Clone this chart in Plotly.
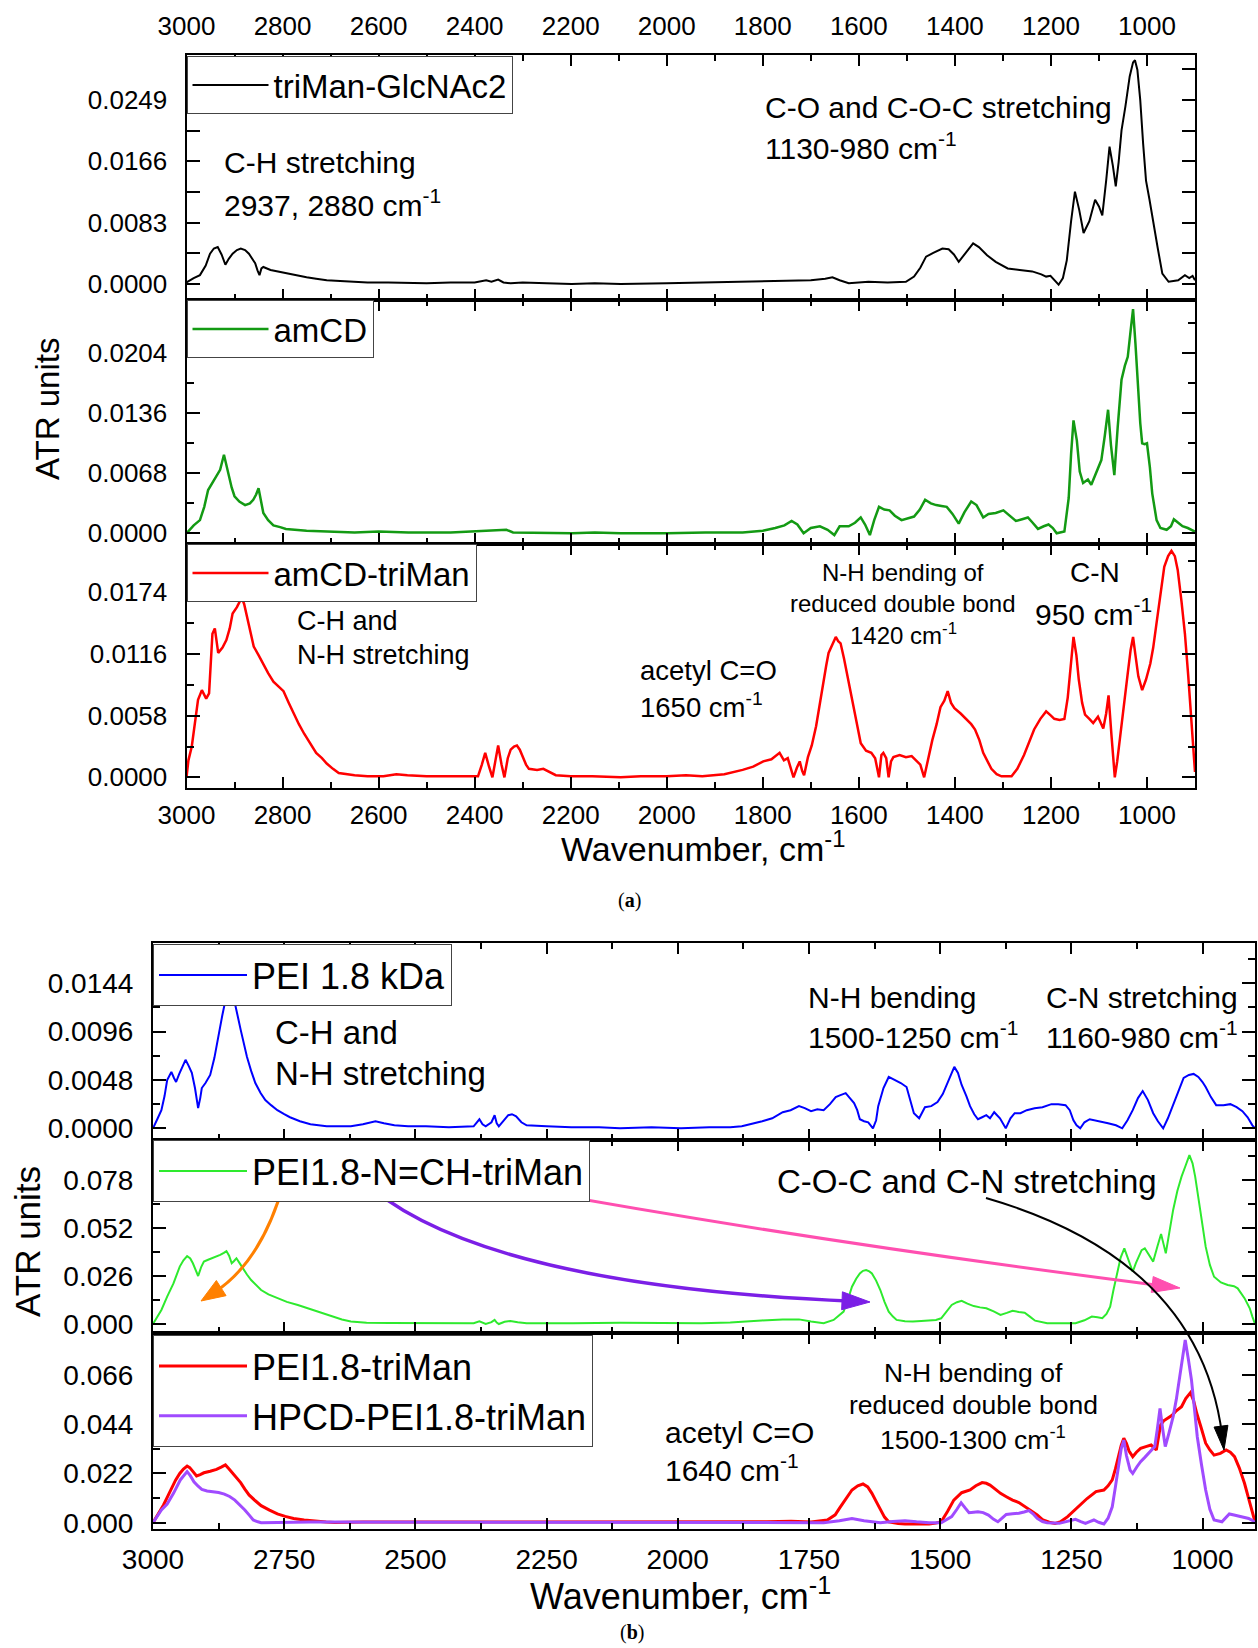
import math
import plotly.graph_objects as go

# ---------------- DATA ----------------
# Panel (a) top: triMan-GlcNAc2
wn_triman = [3000, 2985, 2972, 2960, 2951, 2943, 2935, 2927, 2919, 2912, 2904, 2895, 2887, 2878, 2870, 2862, 2857, 2852, 2848, 2844, 2840, 2825, 2810, 2793, 2770, 2750, 2730, 2708, 2680, 2650, 2623, 2580, 2538, 2500, 2450, 2400, 2376, 2365, 2351, 2340, 2325, 2300, 2250, 2198, 2150, 2096, 2000, 1900, 1850, 1799, 1750, 1700, 1670, 1655, 1640, 1621, 1580, 1540, 1502, 1485, 1472, 1460, 1445, 1426, 1413, 1402, 1392, 1380, 1362, 1350, 1333, 1315, 1290, 1265, 1239, 1220, 1210, 1201, 1192, 1184, 1175, 1167, 1158, 1150, 1141, 1132, 1120, 1108, 1100, 1093, 1085, 1078, 1071, 1065, 1059, 1053, 1045, 1036, 1029, 1025, 1020, 1014, 1008, 1002, 995, 989, 978, 968, 955, 945, 935, 921, 912, 905, 900]
atr_triman = [0.0002, 0.0008, 0.0012, 0.0025, 0.0041, 0.0048, 0.0050, 0.0040, 0.0026, 0.0034, 0.0041, 0.0046, 0.0048, 0.0046, 0.0041, 0.0034, 0.0028, 0.0018, 0.0012, 0.0021, 0.0023, 0.0019, 0.0017, 0.0014, 0.0011, 0.0009, 0.0007, 0.0005, 0.0004, 0.0003, 0.0002, 0.0002, 0.0001, 0.0001, 0.0002, 0.0002, 0.0005, 0.0003, 0.0006, 0.0002, 0.0001, 0.0002, 0.0001, 0.0000, 0.0001, 0.0000, 0.0001, 0.0002, 0.0003, 0.0003, 0.0004, 0.0005, 0.0007, 0.0009, 0.0005, 0.0001, 0.0003, 0.0002, 0.0003, 0.0010, 0.0022, 0.0037, 0.0042, 0.0048, 0.0047, 0.0040, 0.0030, 0.0040, 0.0055, 0.0050, 0.0039, 0.0030, 0.0021, 0.0019, 0.0017, 0.0013, 0.0010, 0.0011, 0.0005, -0.0001, 0.0008, 0.0032, 0.0085, 0.0125, 0.0100, 0.0069, 0.0085, 0.0114, 0.0105, 0.0093, 0.0140, 0.0186, 0.0160, 0.0132, 0.0165, 0.0208, 0.0240, 0.0281, 0.0300, 0.0303, 0.0290, 0.0249, 0.0190, 0.0140, 0.0115, 0.0091, 0.0050, 0.0014, 0.0003, 0.0004, 0.0005, 0.0012, 0.0008, 0.0011, 0.0005]

# Panel (a) middle: amCD
wn_amcd = [3000, 2985, 2972, 2963, 2955, 2946, 2938, 2930, 2922, 2917, 2912, 2906, 2900, 2890, 2878, 2868, 2861, 2855, 2850, 2845, 2840, 2830, 2819, 2805, 2793, 2750, 2708, 2650, 2600, 2538, 2450, 2400, 2334, 2320, 2250, 2197, 2150, 2096, 2000, 1920, 1842, 1800, 1774, 1755, 1740, 1728, 1715, 1700, 1681, 1665, 1651, 1640, 1621, 1608, 1596, 1587, 1577, 1568, 1558, 1547, 1536, 1525, 1511, 1498, 1485, 1473, 1462, 1450, 1439, 1428, 1417, 1405, 1392, 1380, 1366, 1355, 1341, 1330, 1315, 1299, 1285, 1273, 1260, 1248, 1238, 1227, 1215, 1205, 1196, 1188, 1172, 1163, 1158, 1153, 1146, 1140, 1133, 1123, 1116, 1108, 1100, 1095, 1088, 1081, 1075, 1068, 1061, 1053, 1046, 1040, 1034, 1029, 1024, 1019, 1014, 1010, 1005, 1000, 994, 989, 980, 972, 959, 950, 944, 935, 926, 915, 908, 900]
atr_amcd = [0.0000, 0.0009, 0.0015, 0.0030, 0.0049, 0.0057, 0.0064, 0.0072, 0.0089, 0.0078, 0.0064, 0.0052, 0.0042, 0.0036, 0.0032, 0.0034, 0.0038, 0.0044, 0.0051, 0.0035, 0.0023, 0.0015, 0.0009, 0.0007, 0.0005, 0.0003, 0.0002, 0.0001, 0.0002, 0.0001, 0.0001, 0.0002, 0.0004, 0.0001, 0.0000, 0.0000, 0.0001, 0.0000, 0.0000, 0.0001, 0.0001, 0.0003, 0.0006, 0.0009, 0.0014, 0.0010, 0.0000, 0.0006, 0.0008, 0.0004, -0.0002, 0.0008, 0.0008, 0.0012, 0.0018, 0.0010, -0.0002, 0.0015, 0.0030, 0.0027, 0.0026, 0.0020, 0.0015, 0.0017, 0.0019, 0.0027, 0.0038, 0.0034, 0.0032, 0.0031, 0.0030, 0.0022, 0.0011, 0.0024, 0.0036, 0.0032, 0.0018, 0.0022, 0.0023, 0.0026, 0.0020, 0.0014, 0.0016, 0.0018, 0.0012, 0.0005, 0.0008, 0.0010, 0.0006, 0.0000, 0.0002, 0.0040, 0.0090, 0.0128, 0.0105, 0.0070, 0.0057, 0.0061, 0.0055, 0.0065, 0.0075, 0.0083, 0.0110, 0.0140, 0.0100, 0.0066, 0.0120, 0.0174, 0.0190, 0.0200, 0.0230, 0.0254, 0.0215, 0.0166, 0.0125, 0.0102, 0.0101, 0.0102, 0.0075, 0.0045, 0.0015, 0.0006, 0.0004, 0.0008, 0.0016, 0.0012, 0.0008, 0.0006, 0.0004, 0.0002]

# Panel (a) bottom: amCD-triMan
wn_amcd_triman = [3000, 2996, 2989, 2982, 2976, 2968, 2962, 2959, 2953, 2946, 2941, 2934, 2925, 2917, 2910, 2904, 2895, 2885, 2880, 2874, 2867, 2860, 2850, 2840, 2830, 2819, 2808, 2798, 2787, 2776, 2766, 2755, 2742, 2730, 2718, 2708, 2695, 2683, 2650, 2623, 2590, 2563, 2540, 2500, 2453, 2393, 2385, 2378, 2370, 2363, 2357, 2351, 2344, 2338, 2331, 2325, 2318, 2312, 2306, 2300, 2293, 2287, 2270, 2257, 2245, 2231, 2200, 2155, 2096, 2054, 2000, 1960, 1926, 1880, 1842, 1820, 1799, 1782, 1765, 1756, 1748, 1742, 1736, 1729, 1723, 1718, 1714, 1706, 1698, 1689, 1676, 1668, 1663, 1655, 1648, 1643, 1638, 1631, 1625, 1613, 1604, 1596, 1585, 1574, 1566, 1558, 1553, 1549, 1543, 1538, 1533, 1528, 1515, 1502, 1490, 1481, 1472, 1464, 1455, 1447, 1438, 1430, 1422, 1415, 1408, 1401, 1388, 1375, 1366, 1358, 1349, 1341, 1332, 1324, 1313, 1303, 1282, 1270, 1256, 1245, 1235, 1222, 1210, 1200, 1193, 1182, 1172, 1165, 1158, 1153, 1147, 1142, 1135, 1129, 1120, 1112, 1102, 1096, 1091, 1085, 1080, 1074, 1067, 1062, 1057, 1048, 1040, 1034, 1029, 1024, 1018, 1010, 1002, 993, 987, 981, 972, 964, 956, 949, 942, 936, 928, 921, 914, 908, 903, 900]
atr_amcd_triman = [0.0000, 0.0016, 0.0029, 0.0055, 0.0073, 0.0082, 0.0076, 0.0074, 0.0079, 0.0135, 0.0140, 0.0117, 0.0122, 0.0129, 0.0140, 0.0154, 0.0160, 0.0169, 0.0163, 0.0150, 0.0138, 0.0123, 0.0115, 0.0106, 0.0098, 0.0090, 0.0085, 0.0081, 0.0070, 0.0059, 0.0050, 0.0041, 0.0031, 0.0023, 0.0018, 0.0013, 0.0008, 0.0004, 0.0002, 0.0001, 0.0001, 0.0003, 0.0002, 0.0001, 0.0001, 0.0001, 0.0012, 0.0023, 0.0010, 0.0000, 0.0015, 0.0030, 0.0012, 0.0000, 0.0018, 0.0026, 0.0029, 0.0030, 0.0026, 0.0019, 0.0012, 0.0008, 0.0007, 0.0008, 0.0005, 0.0002, 0.0001, 0.0001, 0.0000, 0.0001, 0.0001, 0.0002, 0.0001, 0.0003, 0.0007, 0.0010, 0.0015, 0.0017, 0.0023, 0.0016, 0.0018, 0.0010, 0.0000, 0.0009, 0.0015, 0.0006, 0.0002, 0.0019, 0.0030, 0.0048, 0.0085, 0.0105, 0.0117, 0.0126, 0.0132, 0.0128, 0.0126, 0.0112, 0.0098, 0.0073, 0.0050, 0.0032, 0.0025, 0.0023, 0.0018, 0.0000, 0.0021, 0.0023, 0.0018, 0.0000, 0.0015, 0.0019, 0.0021, 0.0019, 0.0020, 0.0016, 0.0012, 0.0000, 0.0020, 0.0035, 0.0050, 0.0066, 0.0072, 0.0081, 0.0070, 0.0065, 0.0060, 0.0054, 0.0050, 0.0045, 0.0035, 0.0023, 0.0015, 0.0008, 0.0003, 0.0001, 0.0001, 0.0008, 0.0021, 0.0034, 0.0045, 0.0055, 0.0062, 0.0058, 0.0055, 0.0054, 0.0055, 0.0075, 0.0110, 0.0132, 0.0115, 0.0092, 0.0070, 0.0059, 0.0055, 0.0051, 0.0057, 0.0050, 0.0046, 0.0060, 0.0077, 0.0040, 0.0000, 0.0015, 0.0035, 0.0070, 0.0098, 0.0120, 0.0132, 0.0115, 0.0095, 0.0082, 0.0092, 0.0107, 0.0122, 0.0142, 0.0172, 0.0198, 0.0208, 0.0213, 0.0208, 0.0195, 0.0165, 0.0135, 0.0095, 0.0054, 0.0025, 0.0005]

# Panel (b) top: PEI 1.8 kDa
wn_pei = [3000, 2998, 2991, 2984, 2978, 2973, 2968, 2965, 2960, 2956, 2950, 2944, 2938, 2932, 2926, 2920, 2914, 2910, 2907, 2900, 2891, 2883, 2875, 2868, 2862, 2858, 2854, 2849, 2844, 2838, 2833, 2827, 2821, 2813, 2805, 2795, 2786, 2775, 2763, 2750, 2739, 2720, 2700, 2669, 2640, 2623, 2600, 2576, 2560, 2540, 2514, 2480, 2436, 2400, 2389, 2378, 2372, 2366, 2355, 2349, 2345, 2341, 2332, 2323, 2316, 2308, 2298, 2288, 2250, 2203, 2150, 2110, 2050, 1994, 1940, 1900, 1878, 1860, 1839, 1820, 1800, 1785, 1769, 1758, 1746, 1734, 1722, 1710, 1699, 1690, 1680, 1672, 1664, 1658, 1653, 1645, 1637, 1628, 1622, 1618, 1608, 1598, 1587, 1575, 1564, 1556, 1550, 1540, 1529, 1517, 1505, 1495, 1486, 1478, 1473, 1466, 1459, 1450, 1443, 1435, 1428, 1420, 1412, 1405, 1397, 1386, 1375, 1366, 1358, 1347, 1335, 1320, 1305, 1288, 1275, 1261, 1253, 1246, 1240, 1233, 1225, 1215, 1205, 1195, 1180, 1165, 1153, 1143, 1133, 1123, 1114, 1104, 1094, 1085, 1075, 1066, 1056, 1046, 1036, 1026, 1017, 1008, 1000, 994, 984, 974, 960, 947, 935, 924, 914, 905, 900]
atr_pei = [0.0000, 0.0002, 0.0010, 0.0018, 0.0032, 0.0048, 0.0054, 0.0056, 0.0050, 0.0046, 0.0054, 0.0062, 0.0068, 0.0062, 0.0055, 0.0040, 0.0020, 0.0030, 0.0040, 0.0045, 0.0053, 0.0070, 0.0094, 0.0112, 0.0127, 0.0140, 0.0148, 0.0135, 0.0122, 0.0110, 0.0098, 0.0085, 0.0071, 0.0057, 0.0045, 0.0035, 0.0028, 0.0023, 0.0018, 0.0014, 0.0011, 0.0007, 0.0004, 0.0002, 0.0002, 0.0002, 0.0004, 0.0007, 0.0005, 0.0003, 0.0002, 0.0002, 0.0001, 0.0002, 0.0002, 0.0009, 0.0004, 0.0002, 0.0006, 0.0013, 0.0005, 0.0002, 0.0008, 0.0013, 0.0014, 0.0012, 0.0006, 0.0003, 0.0002, 0.0001, 0.0001, 0.0000, 0.0001, 0.0000, 0.0001, 0.0001, 0.0002, 0.0004, 0.0007, 0.0010, 0.0016, 0.0018, 0.0022, 0.0020, 0.0017, 0.0019, 0.0018, 0.0024, 0.0031, 0.0033, 0.0035, 0.0030, 0.0025, 0.0018, 0.0009, 0.0007, 0.0006, 0.0000, 0.0008, 0.0022, 0.0040, 0.0051, 0.0048, 0.0045, 0.0041, 0.0026, 0.0015, 0.0010, 0.0021, 0.0022, 0.0026, 0.0034, 0.0045, 0.0055, 0.0061, 0.0055, 0.0043, 0.0032, 0.0022, 0.0014, 0.0009, 0.0011, 0.0013, 0.0010, 0.0016, 0.0010, 0.0000, 0.0010, 0.0015, 0.0015, 0.0018, 0.0020, 0.0021, 0.0024, 0.0024, 0.0023, 0.0018, 0.0008, 0.0003, 0.0000, 0.0006, 0.0009, 0.0008, 0.0007, 0.0005, 0.0003, 0.0000, 0.0008, 0.0018, 0.0030, 0.0037, 0.0028, 0.0015, 0.0007, 0.0000, 0.0010, 0.0023, 0.0037, 0.0050, 0.0053, 0.0054, 0.0051, 0.0046, 0.0041, 0.0031, 0.0023, 0.0023, 0.0024, 0.0021, 0.0017, 0.0011, 0.0003, 0.0000]

# Panel (b) middle: PEI1.8-N=CH-triMan
wn_imine = [3000, 2991, 2984, 2973, 2961, 2949, 2942, 2935, 2929, 2924, 2918, 2914, 2908, 2903, 2895, 2887, 2880, 2872, 2865, 2860, 2855, 2850, 2846, 2841, 2835, 2829, 2821, 2813, 2804, 2794, 2780, 2763, 2745, 2724, 2705, 2685, 2670, 2654, 2640, 2623, 2593, 2550, 2514, 2450, 2389, 2378, 2372, 2366, 2355, 2349, 2345, 2341, 2330, 2319, 2305, 2288, 2200, 2110, 2030, 1955, 1900, 1878, 1840, 1800, 1769, 1746, 1722, 1703, 1684, 1676, 1668, 1660, 1653, 1647, 1641, 1635, 1630, 1622, 1614, 1606, 1598, 1590, 1583, 1567, 1552, 1536, 1521, 1508, 1498, 1488, 1478, 1468, 1459, 1448, 1436, 1424, 1412, 1398, 1385, 1373, 1362, 1350, 1339, 1329, 1319, 1296, 1270, 1242, 1225, 1211, 1200, 1191, 1183, 1176, 1170, 1163, 1156, 1149, 1141, 1133, 1127, 1122, 1116, 1110, 1102, 1094, 1086, 1079, 1074, 1070, 1063, 1056, 1048, 1040, 1032, 1025, 1019, 1014, 1004, 994, 986, 978, 965, 952, 940, 933, 920, 910, 905, 900]
atr_imine = [0.0000, 0.0040, 0.0076, 0.0148, 0.0220, 0.0311, 0.0345, 0.0368, 0.0355, 0.0329, 0.0290, 0.0260, 0.0310, 0.0338, 0.0348, 0.0356, 0.0362, 0.0374, 0.0385, 0.0395, 0.0370, 0.0329, 0.0340, 0.0356, 0.0330, 0.0302, 0.0268, 0.0238, 0.0210, 0.0184, 0.0160, 0.0139, 0.0120, 0.0103, 0.0085, 0.0067, 0.0050, 0.0036, 0.0024, 0.0014, 0.0007, 0.0005, 0.0004, 0.0004, 0.0004, 0.0014, 0.0006, 0.0000, 0.0010, 0.0022, 0.0008, 0.0000, 0.0012, 0.0016, 0.0010, 0.0004, 0.0004, 0.0007, 0.0005, 0.0004, 0.0008, 0.0013, 0.0019, 0.0025, 0.0025, 0.0013, 0.0004, 0.0022, 0.0067, 0.0130, 0.0202, 0.0245, 0.0274, 0.0288, 0.0292, 0.0285, 0.0274, 0.0235, 0.0184, 0.0120, 0.0067, 0.0040, 0.0022, 0.0015, 0.0013, 0.0016, 0.0018, 0.0022, 0.0031, 0.0065, 0.0103, 0.0118, 0.0126, 0.0110, 0.0097, 0.0090, 0.0085, 0.0068, 0.0049, 0.0060, 0.0072, 0.0065, 0.0061, 0.0040, 0.0018, 0.0004, 0.0004, 0.0004, 0.0020, 0.0040, 0.0036, 0.0031, 0.0055, 0.0094, 0.0180, 0.0274, 0.0360, 0.0410, 0.0350, 0.0283, 0.0330, 0.0365, 0.0400, 0.0410, 0.0370, 0.0338, 0.0420, 0.0488, 0.0430, 0.0383, 0.0500, 0.0618, 0.0720, 0.0798, 0.0860, 0.0915, 0.0870, 0.0798, 0.0610, 0.0419, 0.0320, 0.0256, 0.0225, 0.0211, 0.0205, 0.0193, 0.0140, 0.0085, 0.0040, 0.0000]

# Panel (b) bottom: PEI1.8-triMan
wn_red_b = [3000, 2990, 2980, 2972, 2965, 2957, 2949, 2942, 2935, 2930, 2926, 2920, 2917, 2910, 2903, 2891, 2879, 2870, 2862, 2855, 2848, 2840, 2833, 2825, 2817, 2805, 2794, 2778, 2763, 2748, 2732, 2712, 2693, 2670, 2654, 2600, 2500, 2400, 2300, 2200, 2110, 2000, 1878, 1830, 1784, 1746, 1715, 1700, 1692, 1680, 1668, 1657, 1647, 1638, 1630, 1622, 1614, 1606, 1598, 1580, 1567, 1545, 1521, 1508, 1498, 1486, 1474, 1459, 1443, 1432, 1420, 1412, 1405, 1395, 1385, 1373, 1362, 1350, 1343, 1335, 1327, 1315, 1304, 1292, 1281, 1270, 1257, 1245, 1234, 1220, 1203, 1188, 1180, 1172, 1166, 1160, 1155, 1150, 1145, 1140, 1133, 1126, 1118, 1108, 1098, 1088, 1080, 1074, 1067, 1058, 1050, 1040, 1032, 1023, 1017, 1011, 1002, 994, 986, 978, 966, 955, 947, 939, 930, 920, 910, 900]
atr_red_b = [0.0000, 0.0040, 0.0079, 0.0118, 0.0153, 0.0190, 0.0220, 0.0240, 0.0253, 0.0246, 0.0235, 0.0220, 0.0209, 0.0215, 0.0223, 0.0230, 0.0238, 0.0248, 0.0258, 0.0240, 0.0220, 0.0200, 0.0179, 0.0150, 0.0124, 0.0098, 0.0076, 0.0056, 0.0039, 0.0028, 0.0019, 0.0012, 0.0007, 0.0003, 0.0001, 0.0003, 0.0003, 0.0003, 0.0004, 0.0003, 0.0002, 0.0003, 0.0003, 0.0004, 0.0006, 0.0003, 0.0012, 0.0035, 0.0064, 0.0105, 0.0146, 0.0165, 0.0173, 0.0160, 0.0131, 0.0095, 0.0057, 0.0025, 0.0004, -0.0004, -0.0006, -0.0005, -0.0006, -0.0002, 0.0004, 0.0050, 0.0101, 0.0134, 0.0146, 0.0165, 0.0179, 0.0176, 0.0168, 0.0150, 0.0131, 0.0115, 0.0101, 0.0090, 0.0079, 0.0068, 0.0057, 0.0035, 0.0012, 0.0002, -0.0003, 0.0005, 0.0027, 0.0052, 0.0079, 0.0108, 0.0139, 0.0146, 0.0165, 0.0191, 0.0240, 0.0295, 0.0345, 0.0377, 0.0355, 0.0320, 0.0295, 0.0315, 0.0332, 0.0340, 0.0347, 0.0325, 0.0436, 0.0455, 0.0466, 0.0480, 0.0500, 0.0518, 0.0555, 0.0581, 0.0545, 0.0489, 0.0420, 0.0355, 0.0325, 0.0302, 0.0310, 0.0325, 0.0315, 0.0295, 0.0245, 0.0176, 0.0090, 0.0004]

# Panel (b) bottom: HPCD-PEI1.8-triMan
wn_hpcd = [3000, 2984, 2973, 2961, 2948, 2940, 2935, 2929, 2922, 2915, 2907, 2897, 2887, 2875, 2864, 2854, 2844, 2834, 2825, 2817, 2809, 2800, 2794, 2700, 2600, 2500, 2400, 2300, 2200, 2110, 2000, 1900, 1800, 1722, 1692, 1668, 1645, 1614, 1590, 1567, 1545, 1521, 1498, 1478, 1468, 1460, 1452, 1445, 1436, 1428, 1418, 1408, 1398, 1390, 1382, 1374, 1362, 1350, 1340, 1331, 1323, 1315, 1305, 1296, 1273, 1255, 1242, 1232, 1223, 1215, 1207, 1198, 1188, 1180, 1172, 1166, 1160, 1155, 1150, 1145, 1138, 1133, 1125, 1118, 1110, 1103, 1096, 1091, 1086, 1081, 1076, 1071, 1064, 1056, 1050, 1044, 1038, 1033, 1027, 1021, 1015, 1010, 1002, 994, 986, 978, 963, 956, 949, 940, 932, 920, 912, 905, 900]
atr_hpcd = [0.0000, 0.0057, 0.0083, 0.0131, 0.0191, 0.0215, 0.0228, 0.0210, 0.0183, 0.0165, 0.0149, 0.0142, 0.0139, 0.0135, 0.0128, 0.0117, 0.0101, 0.0080, 0.0057, 0.0035, 0.0012, 0.0004, 0.0000, 0.0003, 0.0003, 0.0002, 0.0003, 0.0003, 0.0002, 0.0003, 0.0002, 0.0002, 0.0002, 0.0000, 0.0009, 0.0019, 0.0009, 0.0000, 0.0005, 0.0009, 0.0004, 0.0000, 0.0000, 0.0027, 0.0060, 0.0089, 0.0065, 0.0045, 0.0047, 0.0049, 0.0045, 0.0034, 0.0015, 0.0004, 0.0020, 0.0037, 0.0040, 0.0042, 0.0048, 0.0054, 0.0040, 0.0019, 0.0005, 0.0000, -0.0003, 0.0008, 0.0015, 0.0005, -0.0003, 0.0005, 0.0012, 0.0002, -0.0006, 0.0020, 0.0071, 0.0160, 0.0265, 0.0330, 0.0369, 0.0300, 0.0235, 0.0220, 0.0250, 0.0273, 0.0292, 0.0310, 0.0325, 0.0340, 0.0420, 0.0511, 0.0420, 0.0340, 0.0400, 0.0474, 0.0550, 0.0637, 0.0730, 0.0816, 0.0730, 0.0637, 0.0500, 0.0384, 0.0260, 0.0146, 0.0060, 0.0012, 0.0004, 0.0020, 0.0039, 0.0034, 0.0030, 0.0024, 0.0019, 0.0010, 0.0000]

# axis ticks
ytick_a = [0.0083, 0.0068, 0.0058]
ytick_b = [0.0048, 0.026, 0.022]
xtick_a = 200
xtick_b = 250

# ---------------- LAYOUT HELPERS ----------------
W, H = 1258, 1648
FONT = "Liberation Sans, Arial, sans-serif"


def px(x):
    return x / W


def py(y):
    return 1 - y / H


def xax(dom, anchor, dtick, labels, size, standoff=8):
    return dict(domain=dom, anchor=anchor, range=[3000, 900], autorange=False,
                automargin=False,
                tick0=0, dtick=dtick, ticks='inside', ticklen=11, tickwidth=2,
                tickcolor='black',
                minor=dict(dtick=dtick / 2, tick0=0, ticks='inside', ticklen=6,
                           tickwidth=2, tickcolor='black', showgrid=False),
                showline=True, linecolor='black', linewidth=2, mirror='allticks',
                showgrid=False, zeroline=False, showticklabels=labels,
                tickfont=dict(size=size, family=FONT, color='black'),
                ticklabelstandoff=standoff)


def yax(dom, anchor, rng, dtick, fmt, size):
    return dict(domain=dom, anchor=anchor, range=rng, autorange=False,
                automargin=False,
                tick0=0, dtick=dtick, tickformat=fmt, ticks='inside', ticklen=13,
                tickwidth=2, tickcolor='black',
                minor=dict(dtick=dtick / 2, tick0=0, ticks='inside', ticklen=7,
                           tickwidth=2, tickcolor='black', showgrid=False),
                showline=True, linecolor='black', linewidth=2, mirror='allticks',
                showgrid=False, zeroline=False, showticklabels=True,
                tickfont=dict(size=size, family=FONT, color='black'),
                ticklabelstandoff=12)


def leg(x, y, size, iw=76):
    return dict(x=px(x), y=py(y), xanchor='left', yanchor='top', xref='paper', yref='paper',
                bgcolor='white', bordercolor='#444', borderwidth=1,
                font=dict(size=size, family=FONT, color='black'), itemwidth=iw,
                tracegroupgap=0)


fig = go.Figure()

# panel (a)
fig.add_trace(go.Scatter(x=wn_triman, y=atr_triman, mode='lines', name='triMan-GlcNAc2',
                         line=dict(color='black', width=2), xaxis='x', yaxis='y', legend='legend'))
fig.add_trace(go.Scatter(x=wn_amcd, y=atr_amcd, mode='lines', name='amCD',
                         line=dict(color='#139a13', width=2.5), xaxis='x2', yaxis='y2', legend='legend2'))
fig.add_trace(go.Scatter(x=wn_amcd_triman, y=atr_amcd_triman, mode='lines', name='amCD-triMan',
                         line=dict(color='#ff0000', width=2.5), xaxis='x3', yaxis='y3', legend='legend3'))
# top tick labels of panel (a)
fig.add_trace(go.Scatter(x=[None], y=[None], mode='lines', showlegend=False, hoverinfo='skip',
                         xaxis='x7', yaxis='y'))
# panel (b)
fig.add_trace(go.Scatter(x=wn_pei, y=atr_pei, mode='lines', name='PEI 1.8 kDa',
                         line=dict(color='#0000ff', width=2), xaxis='x4', yaxis='y4', legend='legend4'))
fig.add_trace(go.Scatter(x=wn_imine, y=atr_imine, mode='lines', name='PEI1.8-N=CH-triMan',
                         line=dict(color='#2eea2e', width=2), xaxis='x5', yaxis='y5', legend='legend5'))
fig.add_trace(go.Scatter(x=wn_red_b, y=atr_red_b, mode='lines', name='PEI1.8-triMan',
                         line=dict(color='#ff0000', width=3), xaxis='x6', yaxis='y6', legend='legend6'))
fig.add_trace(go.Scatter(x=wn_hpcd, y=atr_hpcd, mode='lines', name='HPCD-PEI1.8-triMan',
                         line=dict(color='#a04bff', width=3), xaxis='x6', yaxis='y6', legend='legend6'))

XA = [px(186.5), px(1195)]
XB = [px(153), px(1255)]
FA, FB = 26, 28

layout = dict(
    width=W, height=H, autosize=False,
    margin=dict(l=0, r=0, t=0, b=0, pad=0, autoexpand=False),
    paper_bgcolor='white', plot_bgcolor='white', showlegend=True,
    xaxis=xax(XA, 'y', xtick_a, False, FA),
    xaxis2=xax(XA, 'y2', xtick_a, False, FA),
    xaxis3=xax(XA, 'y3', xtick_a, True, FA, 2),
    xaxis4=xax(XB, 'y4', xtick_b, False, FB),
    xaxis5=xax(XB, 'y5', xtick_b, False, FB),
    xaxis6=xax(XB, 'y6', xtick_b, True, FB, 4),
    xaxis7=dict(overlaying='x', side='top', anchor='y', range=[3000, 900], autorange=False,
                automargin=False,
                tick0=0, dtick=xtick_a, ticks='', showline=False, showgrid=False, zeroline=False,
                showticklabels=True, tickfont=dict(size=FA, family=FONT, color='black'),
                ticklabelstandoff=14),
    yaxis=yax([py(300), py(55)], 'x', [-0.00217, 0.0310], ytick_a[0], '.4f', FA),
    yaxis2=yax([py(544), py(300)], 'x2', [-0.00121, 0.02644], ytick_a[1], '.4f', FA),
    yaxis3=yax([py(788.3), py(544)], 'x3', [-0.00103, 0.02194], ytick_a[2], '.4f', FA),
    yaxis4=yax([py(1140), py(943.3)], 'x4', [-0.00116, 0.01837], ytick_b[0], '.4f', FB),
    yaxis5=yax([py(1333.3), py(1140)], 'x5', [-0.00504, 0.09967], ytick_b[1], '.3f', FB),
    yaxis6=yax([py(1529), py(1333.3)], 'x6', [-0.00282, 0.08463], ytick_b[2], '.3f', FB),
    legend=leg(186.5, 56, 33),
    legend2=leg(186.5, 300, 33),
    legend3=leg(186.5, 544, 33),
    legend4=leg(153, 944, 36, 88),
    legend5=leg(153, 1140, 36, 88),
    legend6=leg(153, 1335, 36, 88),
)
fig.update_layout(**layout)

# ---------------- TEXT ANNOTATIONS ----------------
ann = []


def text(t, x, y, size, anchor='left', angle=0, family=FONT):
    ann.append(dict(text=t, x=px(x), y=py(y), xref='paper', yref='paper', showarrow=False,
                    xanchor=anchor, yanchor='middle', textangle=angle,
                    font=dict(size=size, family=family, color='black')))


SUP = '<sup>-1</sup>'
# panel (a)
text('C-H stretching', 222, 163, 30)
text('2937, 2880 cm' + SUP, 222, 203, 30)
text('C-O and C-O-C stretching', 763, 108, 30)
text('1130-980 cm' + SUP, 763, 146, 30)
text('C-H and', 295, 621, 27)
text('N-H stretching', 295, 655, 27)
text('acetyl C=O', 638, 670, 27.5)
text('1650 cm' + SUP, 638, 705, 27.5)
text('N-H bending of', 903, 573, 24, 'center')
text('reduced double bond', 903, 603, 24, 'center')
text('1420 cm' + SUP, 903, 634, 24, 'center')
text('C-N', 1095, 573, 28, 'center')
text('950 cm' + SUP, 1093, 612, 30, 'center')
text('ATR units', 48, 409, 33, 'center', -90)
text('Wavenumber, cm' + SUP, 703, 846, 34, 'center')
text('(<b>a</b>)', 630, 900, 20, 'center', family='Liberation Serif, Times New Roman, serif')
# panel (b)
text('C-H and', 273, 1032, 33)
text('N-H stretching', 273, 1073, 33)
text('N-H bending', 806, 997, 30)
text('1500-1250 cm' + SUP, 806, 1035, 30)
text('C-N stretching', 1044, 997, 30)
text('1160-980 cm' + SUP, 1044, 1035, 30)
text('C-O-C and C-N stretching', 775, 1181, 33)
text('acetyl C=O', 663, 1432, 30)
text('1640 cm' + SUP, 663, 1468, 30)
text('N-H bending of', 973, 1373, 26.5, 'center')
text('reduced double bond', 973, 1405, 26.5, 'center')
text('1500-1300 cm' + SUP, 973, 1438, 26.5, 'center')
text('ATR units', 27, 1242, 35, 'center', -90)
text('Wavenumber, cm' + SUP, 680, 1594, 36, 'center')
text('(<b>b</b>)', 632, 1632, 20, 'center', family='Liberation Serif, Times New Roman, serif')

fig.update_layout(annotations=ann)

# ---------------- CURVED ARROWS ----------------
shapes = []


def qpath(p0, p1, p2):
    return (f"M {px(p0[0])},{py(p0[1])} Q {px(p1[0])},{py(p1[1])} "
            f"{px(p2[0])},{py(p2[1])}")


def head(p1, p2, L, w):
    dx, dy = p2[0] - p1[0], p2[1] - p1[1]
    n = math.hypot(dx, dy)
    ux, uy = dx / n, dy / n
    bx, by = p2[0] - L * ux, p2[1] - L * uy
    nx, ny = -uy, ux
    pts = [p2, (bx + w * nx, by + w * ny), (bx - w * nx, by - w * ny)]
    return "M " + " L ".join(f"{px(a)},{py(b)}" for a, b in pts) + " Z"


def arrow(p0, p1, p2, color, width, L, w):
    dx, dy = p2[0] - p1[0], p2[1] - p1[1]
    n = math.hypot(dx, dy)
    end = (p2[0] - 0.6 * L * dx / n, p2[1] - 0.6 * L * dy / n)
    shapes.append(dict(type='path', path=qpath(p0, p1, end), xref='paper', yref='paper',
                       line=dict(color=color, width=width)))
    shapes.append(dict(type='path', path=head(p1, p2, L, w), xref='paper', yref='paper',
                       line=dict(color=color, width=1), fillcolor=color))


arrow((284, 1182), (262, 1262), (201, 1301), '#ff8000', 3, 24, 9)
arrow((359, 1177), (470, 1285), (870, 1302), '#7b1fe6', 3.5, 28, 9)
arrow((486, 1182), (800, 1240), (1180, 1288), '#ff4fb0', 3, 28, 8)
arrow((986, 1198), (1200, 1260), (1224, 1450), 'black', 2, 24, 7)

fig.update_layout(shapes=shapes)

fig.write_html("out.html")
